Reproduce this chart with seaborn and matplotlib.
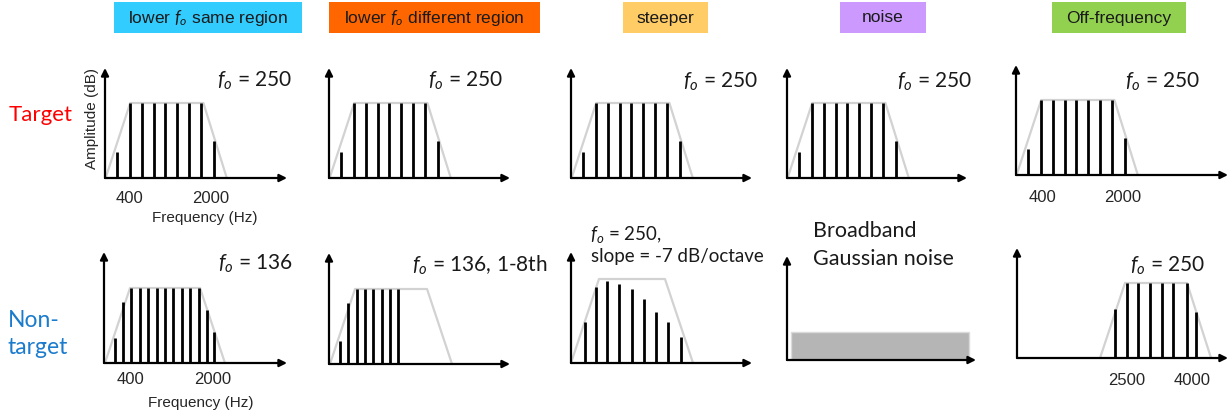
import matplotlib
matplotlib.use("Agg")
import matplotlib.pyplot as plt
from matplotlib.patches import Rectangle
import seaborn as sns

# ---------------------------------------------------------------- data ----
# Column headers (stimulus conditions) and their colours
conditions = ["lower $f_o$ same region", "lower $f_o$ different region",
              "steeper", "noise", "Off-frequency"]
header_colors = ["#33CCFF", "#FF6600", "#FFCC66", "#CC99FF", "#92D050"]
row_labels = ["Target", "Non-\ntarget"]
row_colors = ["#FF0000", "#1B7BCC"]

# Frequency axis in units of 250 Hz steps (schematic), amplitude relative to
# the pass-band level of the spectral envelope.

# Target: f0 = 250 Hz, harmonics 1-9 under a trapezoidal envelope
target_harm = [1.0, 2.05, 3.05, 4.05, 5.0, 6.0, 7.0, 8.0, 9.05]
target_amp = [0.35, 1.0, 1.0, 1.0, 1.0, 1.0, 1.0, 1.0, 0.5]
target_env_x = [0.05, 2.1, 8.2, 10.15]
target_env_y = [0.0, 1.0, 1.0, 0.0]

# Non-target, lower f0 in the same region: f0 = 136 Hz
same_harm = [0.92, 1.58, 2.25, 3.0, 3.67, 4.42, 5.08, 5.75, 6.5, 7.17, 7.92, 8.58, 9.17]
same_amp = [0.33, 0.81, 1.0, 1.0, 1.0, 1.0, 1.0, 1.0, 1.0, 1.0, 1.0, 0.71, 0.41]
same_env_x = [0.08, 2.17, 8.0, 10.08]
same_env_y = [0.0, 1.0, 1.0, 0.0]

# Non-target, lower f0 in a different region: f0 = 136 Hz, harmonics 1-8 only
diff_harm = [0.92, 1.58, 2.33, 3.0, 3.67, 4.42, 5.08, 5.75]
diff_amp = [0.31, 0.81, 1.0, 1.0, 1.0, 1.0, 1.0, 1.0]
diff_env_x = [0.08, 2.17, 8.17, 10.25]
diff_env_y = [0.0, 1.0, 1.0, 0.0]

# Non-target, steeper: f0 = 250 Hz with a -7 dB/octave tilt
steep_harm = [1.17, 2.08, 3.0, 4.0, 5.08, 6.08, 7.08, 8.08, 9.17]
steep_amp = [0.55, 1.01, 1.09, 1.05, 0.99, 0.85, 0.68, 0.55, 0.35]
steep_env_x = [0.0, 2.33, 7.83, 10.17]
steep_env_y = [0.0, 1.12, 1.12, 0.0]

# Non-target, broadband Gaussian noise
noise_x = [0.33, 15.17]
noise_level = 0.37

# Non-target, off-frequency: f0 = 250 Hz shifted up to 2500-4000 Hz
off_harm = [8.17, 9.17, 10.08, 11.08, 12.08, 13.0, 14.17, 14.92]
off_amp = [0.65, 1.0, 1.0, 1.0, 1.0, 1.0, 1.0, 0.62]
off_env_x = [6.92, 9.0, 14.17, 16.17]
off_env_y = [0.0, 1.0, 1.0, 0.0]

# Frequency tick labels (position on the schematic axis, text)
ticks_target_a = ([2.08, 8.83], ["400", "2000"])
ticks_target_off = ([2.17, 8.92], ["400", "2000"])
ticks_nontarget_a = ([2.17, 9.08], ["400", "2000"])
ticks_nontarget_off = ([9.17, 14.58], ["2500", "4000"])

# ------------------------------------------------------------- styling ----
sns.set_theme(style="white")
plt.rcParams["font.family"] = ["Liberation Sans", "DejaVu Sans"]
plt.rcParams["mathtext.fontset"] = "custom"
plt.rcParams["mathtext.it"] = "Lato:italic"
plt.rcParams["mathtext.rm"] = "Lato"

W, H = 1231, 417
X_UNIT, Y_UNIT = 12.0, 75.0          # pixels per data unit
ENV_COLOR = "#D2D2D2"
HUM = "Lato"

fig = plt.figure(figsize=(W / 100, H / 100), dpi=100)
fig.patch.set_facecolor("white")


def fx(px):
    return px / W


def fy(py):
    return 1 - py / H


def make_axes(x0, ybase, x1, ytop):
    ax = fig.add_axes([fx(x0), fy(ybase), fx(x1 - x0), (ybase - ytop) / H])
    ax.set_xlim(0, (x1 - x0) / X_UNIT)
    ax.set_ylim(0, (ybase - ytop) / Y_UNIT)
    ax.set_facecolor("none")
    for s in ax.spines.values():
        s.set_visible(False)
    ax.set_yticks([])
    ax.set_xticks([])
    ax.tick_params(axis="x", length=0, labelsize=12, labelcolor="#262626")
    arrow = dict(arrowstyle="-|>", color="black", lw=1.6, mutation_scale=11,
                 shrinkA=0, shrinkB=0)
    ax.annotate("", xy=(1, 0), xytext=(0, 0), xycoords="axes fraction",
                arrowprops=arrow, annotation_clip=False, zorder=5)
    ax.annotate("", xy=(0, 1), xytext=(0, 0), xycoords="axes fraction",
                arrowprops=arrow, annotation_clip=False, zorder=5)
    return ax


def draw_complex(ax, harm, amp, env_x, env_y):
    sns.lineplot(x=env_x, y=env_y, ax=ax, color=ENV_COLOR, lw=1.6,
                 sort=False, estimator=None, zorder=1)
    ax.lines[-1].set_clip_on(False)
    ax.vlines(harm, 0, amp, color="black", lw=2.0, zorder=2, clip_on=False)
    ax.set_xlabel("")
    ax.set_ylabel("")


def set_freq_ticks(ax, ticks, pad):
    ax.set_xticks(ticks[0])
    ax.set_xticklabels(ticks[1])
    ax.tick_params(axis="x", pad=pad)


# ------------------------------------------------------------- headers ----
header_boxes = [(114, 302), (329, 540), (623, 708), (840, 926), (1052, 1186)]
for (x0, x1), label, col in zip(header_boxes, conditions, header_colors):
    fig.add_artist(Rectangle((fx(x0), fy(33)), fx(x1 - x0), 31 / H,
                             transform=fig.transFigure, facecolor=col,
                             edgecolor="none"))
    fig.text(fx((x0 + x1) / 2), fy(18), label, ha="center", va="center",
             fontsize=12.5, color="#1A1A1A")

# ---------------------------------------------------------- row labels ----
fig.text(fx(9), fy(115), row_labels[0], ha="left", va="center",
         fontsize=16, color=row_colors[0], family=HUM)
fig.text(fx(8), fy(334), row_labels[1], ha="left", va="center",
         fontsize=16.5, color=row_colors[1], family=HUM, linespacing=1.3)

# ------------------------------------------------------------- top row ----
top_boxes = [(105, 178, 287, 68), (329, 178, 510, 68), (571, 178, 752, 68),
             (787, 178, 967, 68), (1016, 175, 1228, 65)]
top_axes = []
for box in top_boxes:
    ax = make_axes(*box)
    draw_complex(ax, target_harm, target_amp, target_env_x, target_env_y)
    top_axes.append(ax)

set_freq_ticks(top_axes[0], ticks_target_a, 9.5)
set_freq_ticks(top_axes[4], ticks_target_off, 11)
top_axes[0].set_xlabel("Frequency (Hz)", fontsize=11, color="#262626",
                       visible=True)
top_axes[0].xaxis.set_label_coords(0.55, -0.30)
top_axes[0].set_ylabel("Amplitude (dB)", fontsize=11, color="#262626",
                       visible=True)
top_axes[0].yaxis.set_label_coords(-0.035, 0.54)

fo_label = "$f_o$ = 250"
for right, base in [(292, 87), (503, 87), (758, 88), (972, 88), (1200, 88)]:
    fig.text(fx(right), fy(base), fo_label, ha="right", va="baseline",
             fontsize=15, family=HUM, color="#1A1A1A")

# ---------------------------------------------------------- bottom row ----
bot_boxes = [(104, 363, 287, 252), (329, 364, 510, 253), (571, 363, 752, 252),
             (787, 360, 976, 256), (1017, 358, 1228, 248)]
bot_axes = [make_axes(*box) for box in bot_boxes]

draw_complex(bot_axes[0], same_harm, same_amp, same_env_x, same_env_y)
draw_complex(bot_axes[1], diff_harm, diff_amp, diff_env_x, diff_env_y)
draw_complex(bot_axes[2], steep_harm, steep_amp, steep_env_x, steep_env_y)
bot_axes[3].fill_between(noise_x, 0, noise_level, facecolor="#B5B5B5",
                         edgecolor="#DADADA", lw=1.0, zorder=1)
draw_complex(bot_axes[4], off_harm, off_amp, off_env_x, off_env_y)

set_freq_ticks(bot_axes[0], ticks_nontarget_a, 6.5)
set_freq_ticks(bot_axes[4], ticks_nontarget_off, 11)
bot_axes[0].set_xlabel("Frequency (Hz)", fontsize=11, color="#262626",
                       visible=True)
bot_axes[0].xaxis.set_label_coords(0.53, -0.30)

txt = dict(va="baseline", family=HUM, color="#1A1A1A")
fig.text(fx(293), fy(270), "$f_o$ = 136", ha="right", fontsize=15, **txt)
fig.text(fx(412), fy(272), "$f_o$ = 136, 1-8th", ha="left", fontsize=15, **txt)
fig.text(fx(590), fy(240), "$f_o$ = 250,", ha="left", fontsize=13.5, **txt)
fig.text(fx(591), fy(262), "slope = -7 dB/octave", ha="left", fontsize=13.5, **txt)
fig.text(fx(813), fy(237), "Broadband", ha="left", fontsize=15.5, **txt)
fig.text(fx(813), fy(265), "Gaussian noise", ha="left", fontsize=15.5, **txt)
fig.text(fx(1205), fy(272), "$f_o$ = 250", ha="right", fontsize=15, **txt)

fig.savefig("out.png", dpi=100, facecolor="white")
